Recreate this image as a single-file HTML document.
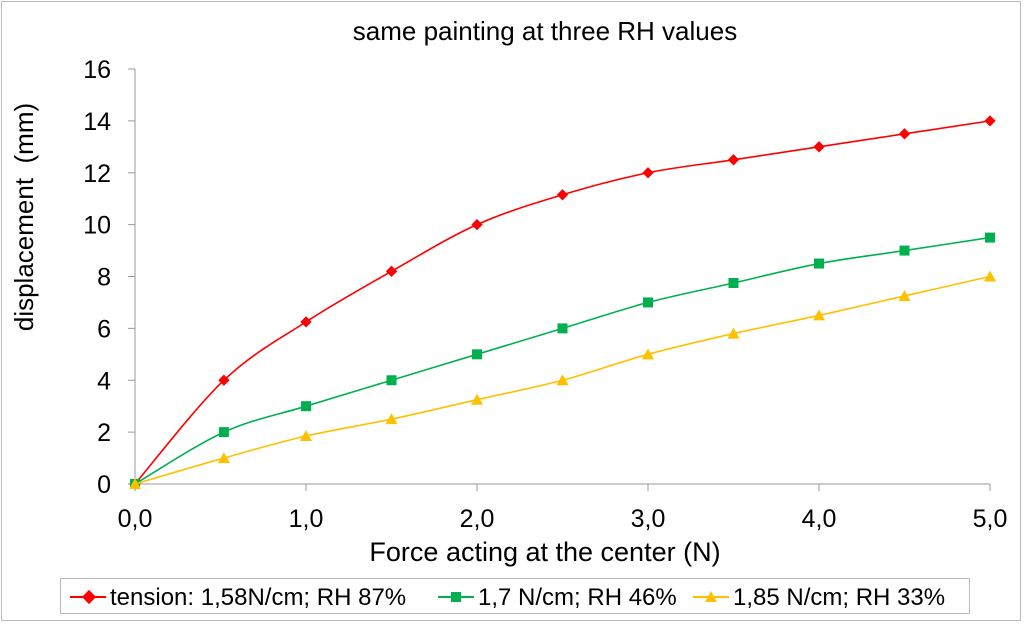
<!DOCTYPE html>
<html><head><meta charset="utf-8"><style>
body{margin:0;background:#fff;}
svg{display:block;font-family:"Liberation Sans",sans-serif;}
</style></head><body>
<svg id="chart" width="1024" height="625" viewBox="0 0 1024 625">
<rect x="1.5" y="1.5" width="1019" height="619" fill="#fff" stroke="#bbb"/>
<text x="545" y="40" font-size="26" text-anchor="middle">same painting at three RH values</text>
<g id="axes"></g>
<g id="series"></g>
<text x="545" y="561" font-size="27" text-anchor="middle">Force acting at the center (N)</text>
<text transform="translate(33,217) rotate(-90)" font-size="26" text-anchor="middle">displacement&#160; (mm)</text>
<g>
<rect x="60.5" y="578.5" width="909" height="35" fill="#fff" stroke="#bbb"/>
<g>
<line x1="70" y1="597" x2="106" y2="597" stroke="#f00" stroke-width="2"/>
<rect x="84" y="592" width="10" height="10" fill="#f00" transform="rotate(45 89 597)"/>
<text x="110" y="605" font-size="24">tension: 1,58N/cm; RH 87%</text></g>
<g>
<line x1="438" y1="597" x2="474" y2="597" stroke="#00b050" stroke-width="2"/>
<rect x="451" y="592" width="10" height="10" fill="#00b050"/>
<text x="478" y="605" font-size="24">1,7 N/cm; RH 46%</text></g>
<g>
<line x1="693" y1="597" x2="729" y2="597" stroke="#ffc000" stroke-width="2"/>
<polygon points="711,591 717,602 705,602" fill="#ffc000"/>
<text x="733" y="605" font-size="24">1,85 N/cm; RH 33%</text></g>
</g>
</svg>
<script>
const xTickValues=[0,1,2,3,4,5];
const xTickLabels=["0,0","1,0","2,0","3,0","4,0","5,0"];
const yTickValues=[0,2,4,6,8,10,12,14,16];
const xRed=[0,0.52,1,1.5,2,2.5,3,3.5,4,4.5,5];
const yRed=[0,4,6.25,8.2,10,11.15,12,12.5,13,13.5,14];
const xGreen=[0,0.52,1,1.5,2,2.5,3,3.5,4,4.5,5];
const yGreen=[0,2,3,4,5,6,7,7.75,8.5,9,9.5];
const xYellow=[0,0.52,1,1.5,2,2.5,3,3.5,4,4.5,5];
const yYellow=[0,1,1.85,2.5,3.25,4,5,5.8,6.5,7.25,8];

const X0=135,X1=990,Y0=484,Y1=69;
const sx=v=>X0+(v-0)/(5-0)*(X1-X0);
const sy=v=>Y0-(v-0)/(16-0)*(Y0-Y1);
const NS="http://www.w3.org/2000/svg";
function mk(t,a,p){const e=document.createElementNS(NS,t);for(const k in a)e.setAttribute(k,a[k]);p.appendChild(e);return e;}
const axes=document.getElementById('axes');
const ya=mk('line',{x1:X0,y1:Y1,x2:X0,y2:Y0,stroke:'#999','stroke-width':1},axes);


const xa=mk('line',{x1:X0,y1:Y0,x2:X1,y2:Y0,stroke:'#999','stroke-width':1},axes);


yTickValues.forEach(v=>{
 mk('line',{x1:X0-7,y1:sy(v),x2:X0,y2:sy(v),stroke:'#999'},axes);
 const t=mk('text',{x:X0-24,y:sy(v)+9,'font-size':25,'text-anchor':'end'},axes);t.textContent=v;
 
 
});
xTickValues.forEach((v,i)=>{
 mk('line',{x1:sx(v),y1:Y0,x2:sx(v),y2:Y0+7,stroke:'#999'},axes);
 const t=mk('text',{x:sx(v),y:Y0+43,'font-size':25,'text-anchor':'middle'},axes);t.textContent=xTickLabels[i];
 
 
});
function smooth(pts){
 let d=`M${pts[0][0]},${pts[0][1]}`;
 for(let i=0;i<pts.length-1;i++){
  const p0=pts[i-1]||pts[i],p1=pts[i],p2=pts[i+1],p3=pts[i+2]||p2;
  const c1=[p1[0]+(p2[0]-p0[0])/6,p1[1]+(p2[1]-p0[1])/6];
  const c2=[p2[0]-(p3[0]-p1[0])/6,p2[1]-(p3[1]-p1[1])/6];
  d+=` C${c1[0]},${c1[1]} ${c2[0]},${c2[1]} ${p2[0]},${p2[1]}`;
 }
 return d;
}
const g=document.getElementById('series');
function series(xs,ys,color,shape,name){
 const pts=xs.map((x,i)=>[sx(x),sy(ys[i])]);
 const grp=mk('g',{},g);
 
 
 mk('path',{d:smooth(pts),fill:'none',stroke:color,'stroke-width':1.6},grp);
 pts.forEach(([x,y])=>{
  let m;
  if(shape==='d')m=mk('rect',{x:x-4,y:y-4,width:8,height:8,fill:color,transform:`rotate(45 ${x} ${y})`},grp);
  else if(shape==='s')m=mk('rect',{x:x-5,y:y-5,width:10,height:10,fill:color},grp);
  else m=mk('polygon',{points:`${x},${y-6} ${x+6},${y+5} ${x-6},${y+5}`,fill:color},grp);
  
  
 });
}
series(xRed,yRed,'#f00','d','series-red');
series(xGreen,yGreen,'#00b050','s','series-green');
series(xYellow,yYellow,'#ffc000','t','series-yellow');
</script>
</body></html>
